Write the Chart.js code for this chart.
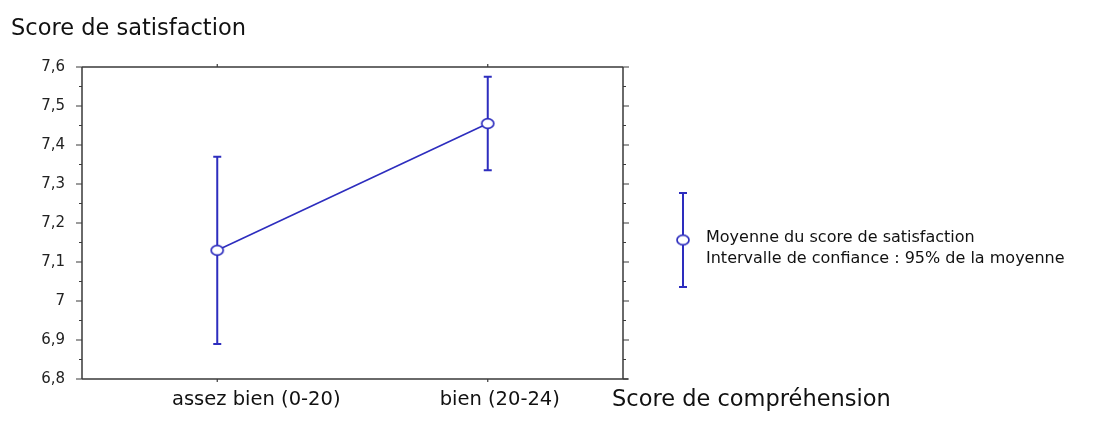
<!DOCTYPE html>
<html>
<head>
  <title>Score de satisfaction</title>
  <script src="https://cdn.jsdelivr.net/npm/chart.js"></script>
  <style>
    body { margin: 0; background: #fff; }
  </style>
</head>
<body>
  <canvas id="satChart" width="1104" height="427"></canvas>

  <script>
    // data
    const categories = ['assez bien (0-20)', 'bien (20-24)'];
    const means = [7.13, 7.455];
    const ciLow = [6.89, 7.335];
    const ciHigh = [7.37, 7.575];
    const yMin = 6.8, yMax = 7.6, yStep = 0.1;

    const blue = 'rgb(45,45,190)';
    const axisColor = '#3a3a3a';
    const font = '"DejaVu Sans", Verdana, sans-serif';
    // the original labels sit a bit right of their tick
    const labelShift = [39, 12];

    // little open ellipse used as the mean marker
    function makeMarker() {
      const c = document.createElement('canvas');
      c.width = 16; c.height = 13;
      const g = c.getContext('2d');
      g.beginPath();
      g.ellipse(8, 6.5, 6, 4.8, 0, 0, Math.PI * 2);
      g.fillStyle = '#fff';
      g.fill();
      g.lineWidth = 1.7;
      g.strokeStyle = blue;
      g.stroke();
      return c;
    }
    const marker = makeMarker();

    function fmt(v) {
      const r = Math.round(v * 10) / 10;
      return String(r).replace('.', ',');
    }

    const frameAndBars = {
      id: 'frameAndBars',
      beforeDatasetsDraw(chart) {
        const { ctx, scales: { x, y } } = chart;
        ctx.save();
        // error bars (confidence interval)
        ctx.strokeStyle = blue;
        ctx.lineWidth = 2;
        for (let i = 0; i < categories.length; i++) {
          const px = x.getPixelForValue(i);
          const yl = y.getPixelForValue(ciLow[i]);
          const yh = y.getPixelForValue(ciHigh[i]);
          ctx.beginPath();
          ctx.moveTo(px, yl); ctx.lineTo(px, yh);
          ctx.moveTo(px - 4, yl); ctx.lineTo(px + 4, yl);
          ctx.moveTo(px - 4, yh); ctx.lineTo(px + 4, yh);
          ctx.stroke();
        }
        ctx.restore();
      },
      afterDraw(chart) {
        const { ctx, chartArea: a, scales: { x, y } } = chart;
        ctx.save();
        ctx.strokeStyle = axisColor;
        ctx.lineWidth = 1.5;
        // frame
        ctx.beginPath();
        ctx.moveTo(a.left, a.top); ctx.lineTo(a.right, a.top);
        ctx.moveTo(a.left, a.top); ctx.lineTo(a.left, a.bottom);
        ctx.moveTo(a.right, a.top); ctx.lineTo(a.right, a.bottom);
        ctx.moveTo(a.left, a.bottom); ctx.lineTo(a.right + 5, a.bottom);
        ctx.stroke();

        // y ticks, left outside and right outside, minor every half step
        ctx.lineWidth = 1.2;
        ctx.beginPath();
        const n = Math.round((yMax - yMin) / (yStep / 2));
        for (let k = 0; k <= n; k++) {
          const py = y.getPixelForValue(yMin + k * yStep / 2);
          const len = k % 2 === 0 ? 6 : 3;
          ctx.moveTo(a.left - len, py); ctx.lineTo(a.left, py);
          ctx.moveTo(a.right, py); ctx.lineTo(a.right + len, py);
        }
        // x ticks top and bottom
        for (let i = 0; i < categories.length; i++) {
          const px = x.getPixelForValue(i);
          ctx.moveTo(px, a.bottom); ctx.lineTo(px, a.bottom + 3);
          ctx.moveTo(px, a.top); ctx.lineTo(px, a.top - 3);
        }
        ctx.stroke();

        // category labels
        ctx.fillStyle = '#111';
        ctx.textBaseline = 'middle';
        ctx.textAlign = 'center';
        ctx.font = '19.5px ' + font;
        categories.forEach((c, i) => {
          ctx.fillText(c, x.getPixelForValue(i) + labelShift[i], 400);
        });

        // titles
        ctx.textAlign = 'left';
        ctx.font = '22.5px ' + font;
        ctx.fillText('Score de satisfaction', 11, 29);
        ctx.fillText('Score de compréhension', 612, 400);

        // legend
        const lx = 683, top = 193, bot = 287, mid = 240;
        ctx.strokeStyle = blue;
        ctx.lineWidth = 2;
        ctx.beginPath();
        ctx.moveTo(lx, top); ctx.lineTo(lx, bot);
        ctx.moveTo(lx - 4, top); ctx.lineTo(lx + 4, top);
        ctx.moveTo(lx - 4, bot); ctx.lineTo(lx + 4, bot);
        ctx.stroke();
        ctx.drawImage(marker, lx - marker.width / 2, mid - marker.height / 2);
        ctx.font = '16px ' + font;
        ctx.fillStyle = '#111';
        ctx.fillText('Moyenne du score de satisfaction', 706, 238);
        ctx.fillText('Intervalle de confiance : 95% de la moyenne', 706, 259);
        ctx.restore();
      }
    };

    new Chart(document.getElementById('satChart'), {
      type: 'line',
      data: {
        labels: categories,
        datasets: [{
          label: 'Moyenne du score de satisfaction',
          data: means,
          borderColor: blue,
          borderWidth: 1.6,
          pointStyle: marker,
          pointRadius: 6,
          pointHoverRadius: 6,
          tension: 0
        }]
      },
      options: {
        responsive: false,
        animation: false,
        events: [],
        layout: { padding: { left: 0, top: 67, right: 481, bottom: 0 } },
        plugins: {
          legend: { display: false },
          title: { display: false },
          tooltip: { enabled: false }
        },
        scales: {
          x: {
            type: 'category',
            offset: true,
            grid: { display: false, drawTicks: false },
            border: { display: false },
            ticks: { display: false },
            afterFit(s) { s.height = 48; }
          },
          y: {
            min: yMin,
            max: yMax,
            grid: { display: false, drawTicks: false },
            border: { display: false },
            ticks: {
              stepSize: yStep,
              color: '#222',
              font: { family: font, size: 15 },
              padding: 17,
              callback: v => fmt(v)
            },
            afterFit(s) { s.width = 82; }
          }
        }
      },
      plugins: [frameAndBars]
    });
  </script>
</body>
</html>
